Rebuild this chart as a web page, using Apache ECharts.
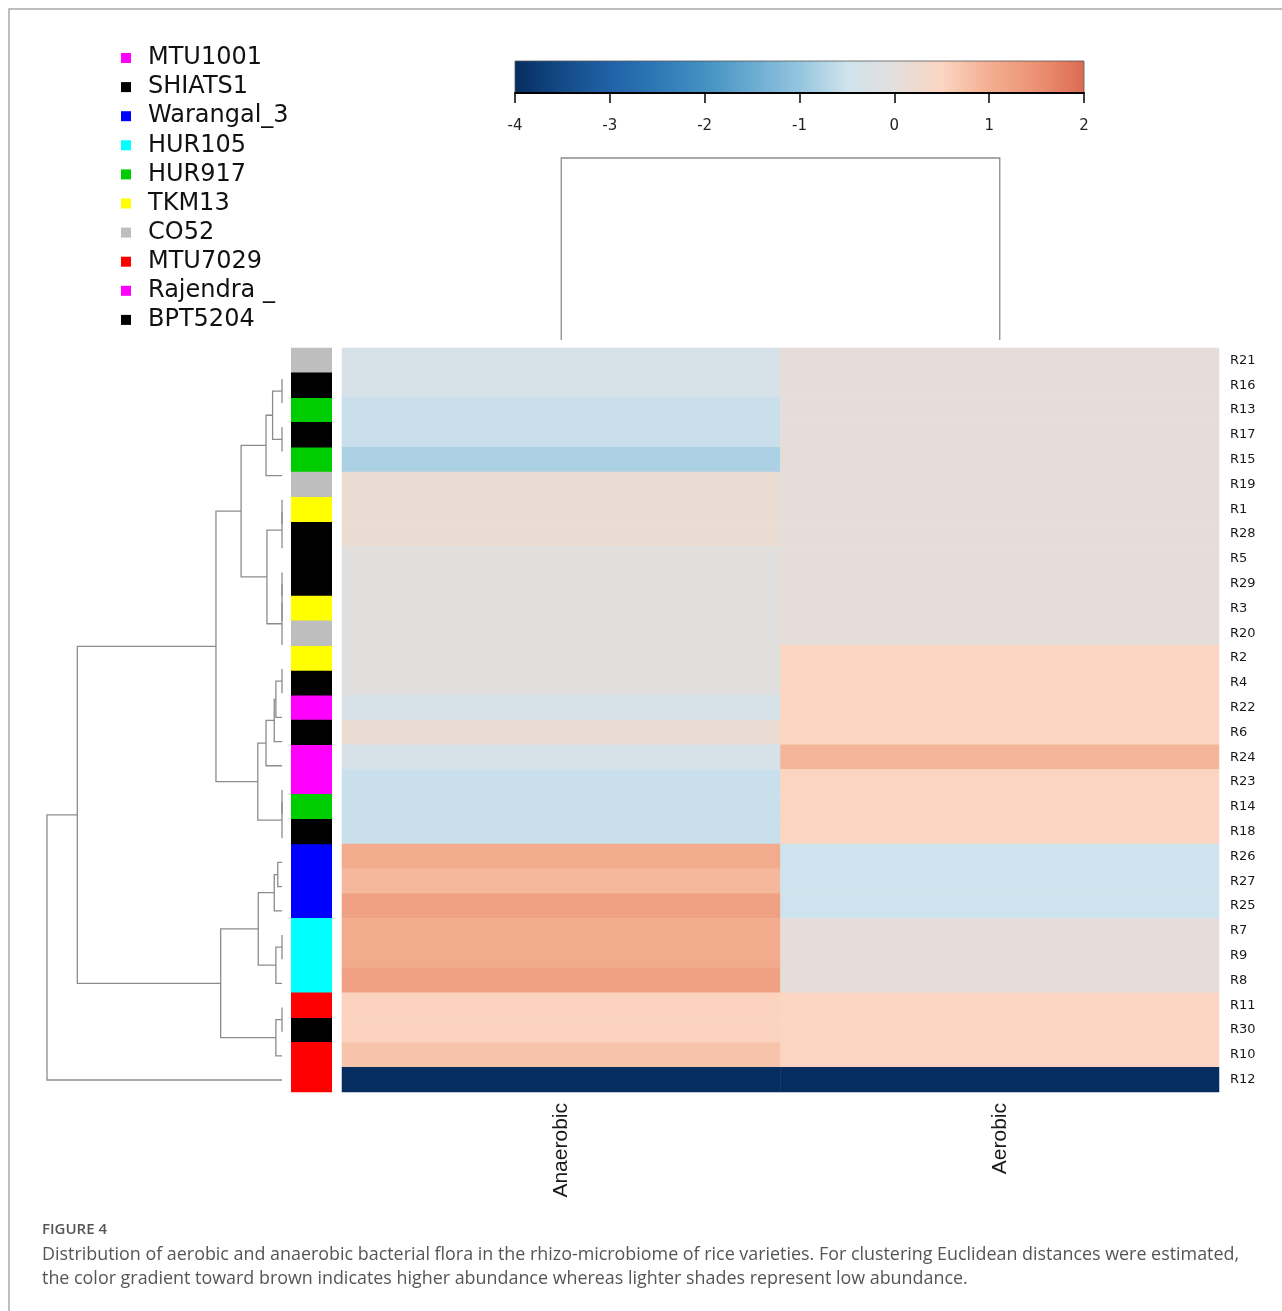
<!DOCTYPE html>
<html><head><meta charset="utf-8">
<script src="https://cdn.jsdelivr.net/npm/echarts@6/dist/echarts.min.js"></script>
<style>html,body{margin:0;padding:0;background:#fff}#c{width:1282px;height:1311px}</style>
</head><body><div id="c"></div>
<script>
// ---------- data ----------
const rowNames = ['R21','R16','R13','R17','R15','R19','R1','R28','R5','R29','R3','R20','R2','R4','R22','R6','R24','R23','R14','R18','R26','R27','R25','R7','R9','R8','R11','R30','R10','R12'];
const colNames = ['Anaerobic','Aerobic'];
const anaerobicValues = [-0.33,-0.33,-0.55,-0.55,-0.8,0.17,0.17,0.17,-0.05,-0.05,-0.05,-0.05,-0.05,-0.05,-0.33,0.17,-0.33,-0.55,-0.55,-0.55,1.05,0.87,1.24,1.05,1.05,1.24,0.52,0.52,0.73,-4];
const aerobicValues   = [0.08,0.08,0.08,0.08,0.08,0.08,0.08,0.08,0.08,0.08,0.08,0.08,0.5,0.5,0.5,0.5,0.91,0.5,0.5,0.5,-0.5,-0.5,-0.5,0.08,0.08,0.08,0.5,0.5,0.5,-4];
const rowVariety = ['CO52','BPT5204','HUR917','BPT5204','HUR917','CO52','TKM13','SHIATS1','SHIATS1','SHIATS1','TKM13','CO52','TKM13','SHIATS1','MTU1001','SHIATS1','MTU1001','MTU1001','HUR917','BPT5204','Warangal_3','Warangal_3','Warangal_3','HUR105','HUR105','HUR105','MTU7029','SHIATS1','MTU7029','MTU7029'];
const varietyNames  = ['MTU1001','SHIATS1','Warangal_3','HUR105','HUR917','TKM13','CO52','MTU7029','Rajendra _','BPT5204'];
const varietyColors = ['#ff00ff','#000000','#0000ff','#00ffff','#00cd00','#ffff00','#bebebe','#ff0000','#ff00ff','#000000'];
const colorTicks = [-4,-3,-2,-1,0,1,2];
// palette stops evenly spaced from -4 to 2 (step 0.5)
const palette = ['#062d5f','#134a86','#2062a6','#2e78b6','#4391c2','#6aabd1','#94c5de','#cfe3ee','#e3dfdc','#fbd5c1','#f4ae91','#ec9173','#db6b54'];
// row dendrogram merges: [childA, childB, height]; strings = leaves, numbers = earlier merges
const rowMerges = [
  ['R21','R16',0], ['R13','R17',0], [0,1,0.40], [2,'R15',0.68],
  ['R19','R1',0], [4,'R28',0], ['R5','R29',0], [6,'R3',0], [7,'R20',0],
  [5,8,0.64], [3,9,1.74],
  ['R2','R4',0], [11,'R22',0.26], [12,'R6',0.33], [13,'R24',0.68],
  ['R23','R14',0], [15,'R18',0], [14,16,1.03], [10,17,2.81],
  ['R26','R27',0.18], [19,'R25',0.33], ['R7','R9',0], [21,'R8',0.26], [20,22,1.01],
  ['R11','R30',0], [24,'R10',0.26], [23,25,2.61], [18,26,8.71], [27,'R12',10]
];
const rowTreeMax = 10;
const colMergeHeight = 6.3;
const caption1 = 'Distribution of aerobic and anaerobic bacterial flora in the rhizo-microbiome of rice varieties. For clustering Euclidean distances were estimated,';
const caption2 = 'the color gradient toward brown indicates higher abundance whereas lighter shades represent low abundance.';

// ---------- build ----------
const heatData = [];
rowNames.forEach((r, i) => { heatData.push([0, i, anaerobicValues[i]]); heatData.push([1, i, aerobicValues[i]]); });

const leafPos = {}; rowNames.forEach((r, i) => leafPos[r] = i);
const nodePos = [], nodeH = [];
const posOf = c => typeof c === 'string' ? leafPos[c] : nodePos[c];
const hOf = c => typeof c === 'string' ? 0 : nodeH[c];
const dendroData = rowMerges.map((m, k) => {
  const ya = posOf(m[0]), yb = posOf(m[1]);
  const item = [m[2], ya, yb, hOf(m[0]), hOf(m[1])];
  nodePos[k] = (ya + yb) / 2; nodeH[k] = m[2];
  return item;
});

const lineColor = '#8c8c8c';
const annSeries = varietyNames.map((v, vi) => ({
  type: 'custom', name: v, xAxisIndex: 1, yAxisIndex: 1,
  itemStyle: { color: varietyColors[vi] },
  data: rowNames.map((r, i) => rowVariety[i] === v ? [0, i] : null).filter(d => d),
  renderItem: (params, api) => {
    const c = api.coord([0, api.value(1)]);
    const s = api.size([1, 1]);
    return { type: 'rect', shape: { x: c[0] - s[0] / 2, y: c[1] - s[1] / 2 - 0.3, width: s[0], height: s[1] + 0.6 },
      style: { fill: varietyColors[vi] } };
  }
}));

const chart = echarts.init(document.getElementById('c'));
chart.setOption({
  animation: false,
  backgroundColor: '#fff',
  graphic: [{ type: 'polyline', shape: { points: [[9, 1311], [9, 9], [1282, 9]] }, style: { stroke: '#a9a9a9', lineWidth: 1.5, fill: null } }],
  title: [
    { text: 'FIGURE 4', left: 37, top: 1217, textStyle: { fontFamily: 'Open Sans', fontSize: 15, fontWeight: 600, color: '#555' } },
    { text: caption1 + '\n' + caption2, left: 37, top: 1238, textStyle: { fontFamily: 'Open Sans', fontSize: 17.9, fontWeight: 'normal', color: '#555', lineHeight: 24 } }
  ],
  legend: {
    data: varietyNames, orient: 'vertical', left: 116, top: 41, icon: 'rect', itemWidth: 10, itemHeight: 10, itemGap: 5.1,
    selectedMode: false,
    textStyle: { fontFamily: 'DejaVu Sans', fontSize: 24, color: '#111', lineHeight: 24, padding: [0, 0, 0, 12] }
  },
  visualMap: { type: 'continuous', min: -4, max: 2, seriesIndex: 0, dimension: 2, show: false, inRange: { color: palette } },
  grid: [
    { left: 342, top: 348, width: 877, height: 744 },
    { left: 291, top: 348, width: 41, height: 744 },
    { left: 47, top: 379, width: 235, height: 701 },
    { left: 342, top: 158, width: 877, height: 182 },
    { left: 515, top: 61, width: 569, height: 32 }
  ],
  xAxis: [
    { gridIndex: 0, type: 'category', data: colNames, position: 'bottom', axisLine: { show: false }, axisTick: { show: false },
      axisLabel: { rotate: 90, margin: 11, fontFamily: 'Liberation Sans', fontSize: 21, color: '#1a1a1a' } },
    { gridIndex: 1, type: 'category', data: ['annotation'], show: false },
    { gridIndex: 2, type: 'value', min: 0, max: rowTreeMax, inverse: true, show: false },
    { gridIndex: 3, type: 'category', data: colNames, show: false },
    { gridIndex: 4, type: 'value', min: -4, max: 2, interval: 1, position: 'bottom', z: 5,
      axisLine: { show: true, lineStyle: { color: '#000', width: 2 } },
      axisTick: { show: true, length: 10, inside: false, lineStyle: { color: '#000', width: 1.5 } },
      splitLine: { show: false },
      axisLabel: { margin: 26, fontFamily: 'DejaVu Sans', fontSize: 15, color: '#222', formatter: v => colorTicks.includes(v) ? String(v) : '' } }
  ],
  yAxis: [
    { gridIndex: 0, type: 'category', data: rowNames, inverse: true, position: 'right', axisLine: { show: false }, axisTick: { show: false },
      axisLabel: { margin: 11, fontFamily: 'DejaVu Sans', fontSize: 13, color: '#1a1a1a' } },
    { gridIndex: 1, type: 'category', data: rowNames, inverse: true, show: false },
    { gridIndex: 2, type: 'value', min: 0, max: rowNames.length - 1, inverse: true, show: false },
    { gridIndex: 3, type: 'value', min: 0, max: colMergeHeight, show: false },
    { gridIndex: 4, type: 'value', min: 0, max: 1, show: false }
  ],
  series: [
    { type: 'heatmap', xAxisIndex: 0, yAxisIndex: 0, data: heatData, itemStyle: { borderWidth: 0 }, emphasis: { disabled: true } },
    ...annSeries,
    { type: 'custom', xAxisIndex: 2, yAxisIndex: 2, data: dendroData, clip: false, encode: { x: [0, 3, 4], y: [1, 2] },
      renderItem: (params, api) => {
        const h = api.value(0), ya = api.value(1), yb = api.value(2), ha = api.value(3), hb = api.value(4);
        return { type: 'polyline', shape: { points: [api.coord([ha, ya]), api.coord([h, ya]), api.coord([h, yb]), api.coord([hb, yb])] },
          style: { stroke: lineColor, lineWidth: 1.3, fill: null } };
      } },
    { type: 'custom', xAxisIndex: 3, yAxisIndex: 3, data: [[0, 1, colMergeHeight, 0, 0]], clip: false, encode: { x: [0, 1], y: [2, 3, 4] },
      renderItem: (params, api) => {
        const xa = api.value(0), xb = api.value(1), h = api.value(2), ha = api.value(3), hb = api.value(4);
        return { type: 'polyline', shape: { points: [api.coord([xa, ha]), api.coord([xa, h]), api.coord([xb, h]), api.coord([xb, hb])] },
          style: { stroke: lineColor, lineWidth: 1.3, fill: null } };
      } },
    { type: 'custom', xAxisIndex: 4, yAxisIndex: 4, z: 1, data: [[colorTicks[0], colorTicks[colorTicks.length - 1]]], encode: { x: [0, 1] },
      renderItem: (params, api) => {
        const p0 = api.coord([api.value(0), 1]), p1 = api.coord([api.value(1), 0]);
        return { type: 'rect', shape: { x: p0[0], y: p0[1], width: p1[0] - p0[0], height: p1[1] - p0[1] },
          style: { fill: new echarts.graphic.LinearGradient(0, 0, 1, 0, palette.map((c, i) => ({ offset: i / (palette.length - 1), color: c }))),
            stroke: '#555', lineWidth: 0.8 } };
      } }
  ]
});
</script></body></html>
